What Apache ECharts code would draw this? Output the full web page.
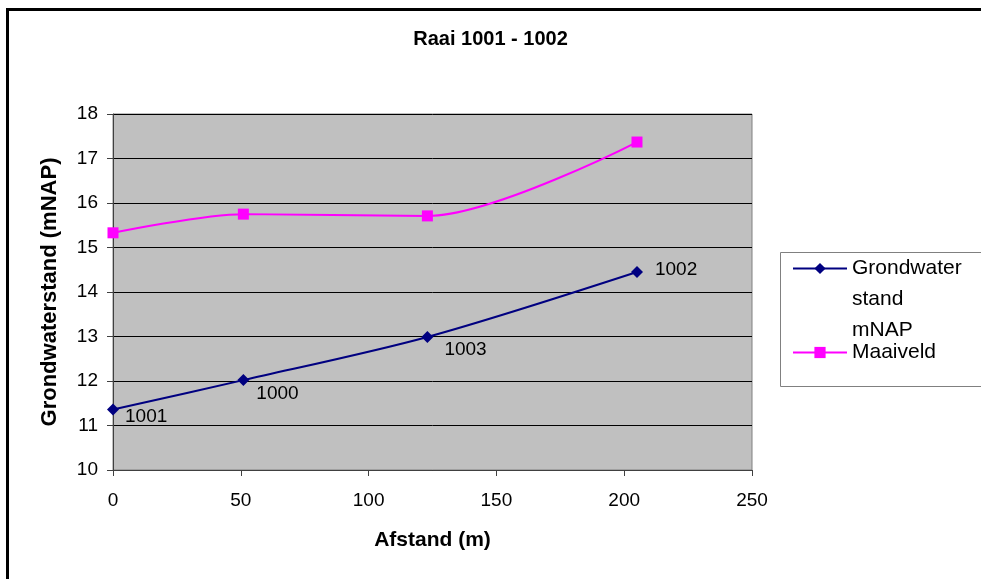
<!DOCTYPE html>
<html lang="nl">
<head>
    <meta http-equiv="Content-Type" content="text/html; charset=utf-8"/>
    <title>Raai 1001 - 1002</title>
    <script type="text/javascript" src="https://cdn.jsdelivr.net/npm/echarts@6/dist/echarts.min.js"></script>
</head>
<body style="margin: 0; background: #fff;">
<div id="container" style="width: 981px; height: 579px;"></div>
<script type="text/javascript">
    var afstand = [0, 51, 123, 205];
    var grondwater = [11.36, 12.02, 12.99, 14.45];
    var maaiveld = [15.33, 15.75, 15.71, 17.37];
    var peilbuizen = ['1001', '1000', '1003', '1002'];
    var yTicks = {min: 10, max: 18, step: 1};
    var xTicks = {min: 0, max: 250, step: 50};

    // plaats van de labels t.o.v. het punt
    var labelOffsets = [[1, 7], [2, 14], [6, 13], [7, -2]];

    var font = "'Liberation Sans', Arial, sans-serif";

    var gwData = afstand.map(function (x, i) {
        return {
            value: [x, grondwater[i]],
            name: peilbuizen[i],
            label: {offset: labelOffsets[i]}
        };
    });
    var mvData = afstand.map(function (x, i) {
        return [x, maaiveld[i]];
    });

    var myChart = echarts.init(document.getElementById('container'));
    var option = {
        animation: false,
        textStyle: {fontFamily: font, color: '#000'},
        title: {
            text: 'Raai 1001 - 1002',
            left: 'center',
            top: 24,
            textStyle: {fontFamily: font, fontSize: 20, fontWeight: 'bold', color: '#000'}
        },
        legend: [
            {
                data: ['Grondwaterstand mNAP'],
                left: 792,
                top: 191,
                padding: 0,
                itemWidth: 54,
                itemHeight: 14,
                formatter: function () { return '\n\nGrondwater\nstand\nmNAP'; },
                textStyle: {fontFamily: font, fontSize: 21, lineHeight: 31, color: '#000'}
            },
            {
                data: ['Maaiveld'],
                left: 792,
                top: 337,
                padding: 0,
                itemWidth: 54,
                itemHeight: 14,
                textStyle: {fontFamily: font, fontSize: 21, lineHeight: 31, color: '#000'}
            }
        ],
        graphic: [
            {
                type: 'rect',
                shape: {x: 7.5, y: 9.5, width: 1000, height: 600},
                style: {fill: 'none', stroke: '#000', lineWidth: 3},
                silent: true
            },
            {
                type: 'rect',
                shape: {x: 780.5, y: 252.5, width: 300, height: 134},
                style: {fill: 'none', stroke: '#808080', lineWidth: 1},
                silent: true
            }
        ],
        grid: {
            left: 113,
            top: 114,
            right: 229,
            bottom: 109,
            show: true,
            backgroundColor: '#C0C0C0',
            borderColor: '#808080',
            borderWidth: 1
        },
        xAxis: {
            type: 'value',
            min: xTicks.min,
            max: xTicks.max,
            interval: xTicks.step,
            name: 'Afstand (m)',
            nameLocation: 'middle',
            nameGap: 60,
            nameTextStyle: {fontFamily: font, fontSize: 21, fontWeight: 'bold', color: '#000'},
            axisLine: {lineStyle: {color: '#404040', width: 1}},
            axisTick: {show: true, length: 6, lineStyle: {color: '#404040'}},
            axisLabel: {fontFamily: font, fontSize: 19, color: '#000', margin: 21},
            splitLine: {show: false}
        },
        yAxis: {
            type: 'value',
            min: yTicks.min,
            max: yTicks.max,
            interval: yTicks.step,
            name: 'Grondwaterstand (mNAP)',
            nameLocation: 'middle',
            nameGap: 52,
            nameTextStyle: {fontFamily: font, fontSize: 22, fontWeight: 'bold', color: '#000'},
            axisLine: {show: true, lineStyle: {color: '#404040', width: 1}},
            axisTick: {show: true, length: 6, lineStyle: {color: '#404040'}},
            axisLabel: {fontFamily: font, fontSize: 19, color: '#000', margin: 15},
            splitLine: {show: true, lineStyle: {color: '#000', width: 1}}
        },
        series: [
            {
                name: 'Grondwaterstand mNAP',
                type: 'line',
                smooth: 0.3,
                data: gwData,
                symbol: 'diamond',
                symbolSize: 12,
                itemStyle: {color: '#000080'},
                lineStyle: {color: '#000080', width: 2},
                label: {
                    show: true,
                    position: 'right',
                    formatter: '{b}',
                    fontFamily: font,
                    fontSize: 19,
                    color: '#000'
                },
                z: 3
            },
            {
                name: 'Maaiveld',
                type: 'line',
                smooth: 0.3,
                data: mvData,
                symbol: 'rect',
                symbolSize: 11,
                itemStyle: {color: '#FF00FF'},
                lineStyle: {color: '#FF00FF', width: 2},
                z: 3
            }
        ]
    };
    myChart.setOption(option, true);
</script>
</body>
</html>
